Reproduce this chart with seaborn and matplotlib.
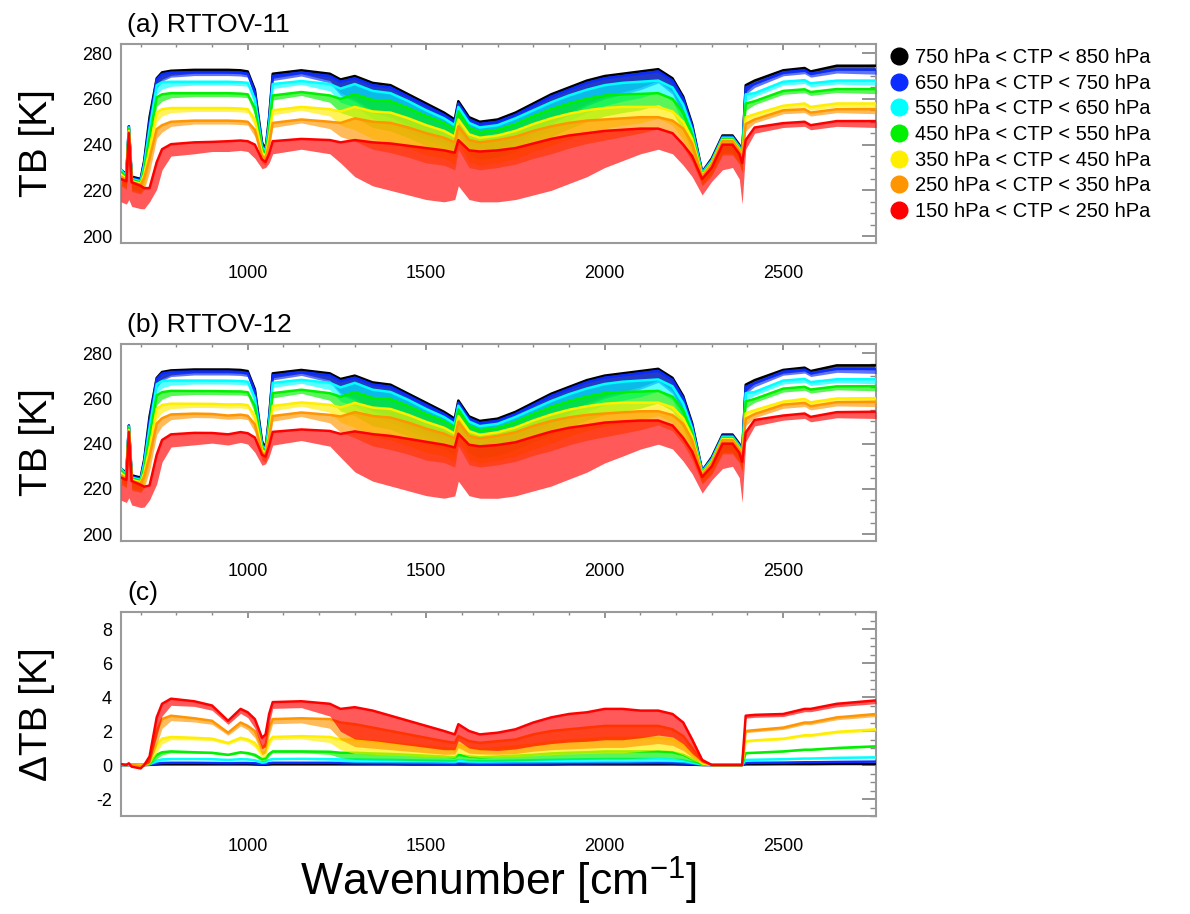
import numpy as np
import pandas as pd
import matplotlib
matplotlib.use("Agg")
import matplotlib.pyplot as plt
from matplotlib.lines import Line2D
from matplotlib.ticker import MultipleLocator, FixedLocator
import seaborn as sns

# ---------------- data ----------------
wavenumber = [645, 660, 667, 675, 700, 710, 725, 745, 760, 785,
              850, 900, 945, 980, 1000, 1020, 1040, 1050, 1060, 1070,
              1150, 1230, 1260, 1300, 1350, 1400, 1450, 1500, 1550, 1580,
              1590, 1620, 1650, 1700, 1750, 1800, 1850, 1900, 1950, 2000,
              2050, 2100, 2150, 2190, 2220, 2245, 2273, 2300, 2330, 2358,
              2377, 2385, 2395, 2420, 2500, 2560, 2577, 2650, 2760]

ctp_classes = ["750 hPa < CTP < 850 hPa", "650 hPa < CTP < 750 hPa",
               "550 hPa < CTP < 650 hPa", "450 hPa < CTP < 550 hPa",
               "350 hPa < CTP < 450 hPa", "250 hPa < CTP < 350 hPa",
               "150 hPa < CTP < 250 hPa"]
class_colors = ["#000000", "#0a2cff", "#00ffff", "#00f000",
                "#ffee00", "#ff9500", "#ff0000"]

# RTTOV-11 brightness temperature, upper envelope per class [K]
tb11_750_850 = [229, 227, 248, 226, 225, 233, 252, 269, 271.6, 272.3,
                272.7, 272.7, 272.7, 272.5, 272, 264, 241, 238, 252, 271,
                272.5, 271, 268.5, 270, 267, 266, 262, 258, 254, 251,
                259, 252, 250, 251, 254, 258, 262, 265, 268, 270,
                271, 272, 273, 269, 261, 249, 228, 234, 244, 244,
                240, 236, 266, 268, 272.5, 273.5, 272, 274.5, 274.5]
tb11_650_750 = [228.5, 226.5, 248, 225.5, 224.5, 232, 250, 268.5, 270.8, 271.5,
                271.7, 271.7, 271.7, 271.5, 271, 263, 240, 237.5, 251, 270,
                271.5, 270, 267.5, 269, 266, 265, 261, 257, 253, 250,
                258, 251, 249, 250, 253, 257, 261, 264, 267, 269,
                270, 271, 272, 268, 260, 248, 228, 233.5, 243.5, 243.5,
                239.5, 235.5, 265, 266.5, 271.6, 272.5, 271, 272.8, 272.8]
tb11_550_650 = [229, 226, 247.5, 225, 224, 231, 247, 266, 267.3, 267.5,
                267.5, 267.5, 267.5, 267.3, 267, 260, 239, 237, 249, 266.5,
                267.8, 266.5, 264.5, 266.5, 263.5, 262.5, 259, 255, 251.5, 248.5,
                256.5, 249.5, 247.5, 248.5, 251.5, 255, 258.5, 261.5, 264, 266,
                267, 267.5, 268, 265, 257.5, 246.5, 227.5, 233, 243, 243,
                239, 235, 262, 262.5, 267.5, 268.2, 266.8, 268, 268]
tb11_450_550 = [228, 225.5, 247, 224.5, 223.5, 229, 243, 260.7, 262, 262.5,
                262.5, 262.5, 262.5, 262.3, 262, 256, 238, 236, 246, 261.5,
                263, 261.5, 260, 262, 259.5, 259, 256, 252.5, 249.5, 246.5,
                254.5, 247.5, 245.5, 246.5, 249, 252.5, 255.5, 258, 260, 261.5,
                262, 262.2, 262.5, 260, 254, 244.5, 227, 232.5, 242.5, 242.5,
                238.5, 234.5, 258, 259, 263.5, 264.2, 263, 264.3, 264.3]
tb11_350_450 = [227, 225, 246, 224, 223, 227, 238, 254, 255.5, 256,
                256, 256, 256, 255.8, 255.5, 251, 236.5, 235, 243, 255,
                256.5, 255.5, 254.5, 256.5, 254.5, 254, 251.5, 248.5, 246, 243.5,
                251, 244.5, 243, 244, 246, 249, 251.5, 253.5, 255, 256,
                256.5, 256.5, 256.5, 254.5, 250, 242.5, 226.5, 232, 242, 242,
                238, 234, 252, 253.3, 257, 258, 256.5, 258, 258]
tb11_250_350 = [226, 224.5, 245.5, 223.5, 222.5, 225.5, 234, 246.8, 248.5, 250,
                250.5, 250.5, 250.5, 250.3, 250, 246.5, 235, 234, 240.5, 249.5,
                251, 250, 249.5, 251.5, 250, 249.5, 247.5, 245, 243, 241,
                248, 242, 241, 242, 243.5, 246, 248, 249.5, 250.5, 251,
                251.5, 252, 252, 250.5, 247, 240.5, 226, 231.5, 241.5, 241.5,
                237.5, 233.5, 249, 251, 255, 255.5, 254, 255.5, 255.5]
tb11_150_250 = [225, 224, 245, 223.6, 222, 221, 221, 232.3, 238, 240.2,
                241, 241.2, 241.5, 241.8, 241.5, 240, 233.5, 232.5, 236, 241.5,
                242.5, 242, 241, 242, 241, 240.5, 239.5, 238.5, 237.5, 236.5,
                242, 237.5, 237, 237.5, 238.5, 240.5, 242.5, 244, 245, 246,
                246.5, 247, 247, 245, 240, 235, 225, 230, 240, 240,
                236, 232, 242, 247.5, 249.4, 250, 248.5, 250.3, 250.3]
# lower edge of the scatter of the 150-250 hPa class [K]
tb11_150_250_bottom = [215, 214, 216, 213, 212, 212, 215, 220.5, 229, 235,
                       236, 237, 237, 237.5, 237, 234, 229.5, 230, 232, 236,
                       238, 236, 232, 226, 222, 220, 218, 216, 215, 216,
                       222, 216, 215, 215, 216, 218, 220, 223, 226, 230,
                       233, 236, 238, 236, 231, 226, 218, 224, 229, 230,
                       225, 214, 238, 245, 247.5, 248, 246.5, 248, 247.5]
# downward spread of the scatter of the other classes [K]
tb11_spread = [4, 4, 4, 4, 4, 5, 6, 4, 3, 2,
               1.5, 1.5, 1.5, 1.5, 1.5, 3, 3, 3, 3, 2,
               1.5, 3, 6, 10, 12, 13, 13, 13, 12, 12,
               10, 12, 12, 12, 12, 12, 12, 11, 10, 9,
               8, 7, 5, 6, 8, 8, 4, 5, 6, 6,
               6, 6, 3, 1.5, 1.5, 1.5, 1.5, 1.5, 2]

# Difference RTTOV-12 minus RTTOV-11, upper envelope per class [K]
dtb_750_850 = [0, 0, 0, 0, 0, 0, 0.01, 0.03, 0.04, 0.04,
               0.04, 0.04, 0.04, 0.04, 0.04, 0.03, 0.02, 0.02, 0.03, 0.04,
               0.04, 0.04, 0.04, 0.04, 0.04, 0.04, 0.03, 0.03, 0.03, 0.03,
               0.03, 0.03, 0.03, 0.03, 0.03, 0.03, 0.03, 0.04, 0.04, 0.04,
               0.04, 0.04, 0.04, 0.04, 0.03, 0.02, 0, 0, 0, 0,
               0, 0, 0.04, 0.04, 0.05, 0.05, 0.05, 0.06, 0.06]
dtb_650_750 = [0.0, 0.0, 0.0, 0.0, 0.0, 0.0, 0.02, 0.1, 0.12, 0.13,
               0.13, 0.12, 0.11, 0.12, 0.12, 0.1, 0.06, 0.07, 0.11, 0.13,
               0.13, 0.13, 0.12, 0.12, 0.11, 0.11, 0.1, 0.1, 0.09, 0.08,
               0.1, 0.09, 0.08, 0.09, 0.1, 0.1, 0.11, 0.12, 0.12, 0.13,
               0.13, 0.13, 0.13, 0.12, 0.1, 0.06, 0.01, 0.0, 0.0, 0.0,
               0.0, 0.0, 0.12, 0.13, 0.14, 0.16, 0.16, 0.18, 0.2]
dtb_550_650 = [0.01, 0.0, 0.01, 0.0, 0.0, 0.0, 0.05, 0.25, 0.33, 0.35,
               0.35, 0.34, 0.3, 0.34, 0.33, 0.28, 0.15, 0.18, 0.3, 0.35,
               0.36, 0.35, 0.33, 0.33, 0.31, 0.3, 0.28, 0.26, 0.24, 0.22,
               0.28, 0.24, 0.22, 0.24, 0.26, 0.28, 0.3, 0.32, 0.34, 0.35,
               0.35, 0.35, 0.35, 0.33, 0.27, 0.15, 0.02, 0.0, 0.0, 0.0,
               0.0, 0.0, 0.3, 0.31, 0.34, 0.38, 0.38, 0.42, 0.45]
dtb_450_550 = [0.02, 0.0, 0.02, 0.0, 0.0, 0.0, 0.1, 0.6, 0.75, 0.8,
               0.75, 0.72, 0.6, 0.75, 0.7, 0.6, 0.35, 0.4, 0.65, 0.8,
               0.8, 0.78, 0.72, 0.72, 0.68, 0.65, 0.6, 0.55, 0.5, 0.45,
               0.6, 0.5, 0.45, 0.5, 0.55, 0.6, 0.68, 0.72, 0.75, 0.8,
               0.8, 0.8, 0.8, 0.75, 0.6, 0.35, 0.05, 0.0, 0.0, 0.0,
               0.0, 0.0, 0.7, 0.72, 0.8, 0.9, 0.9, 1.0, 1.1]
dtb_350_450 = [0.03, 0.0, 0.03, 0.0, 0.0, 0.0, 0.2, 1.2, 1.55, 1.65,
               1.6, 1.55, 1.3, 1.6, 1.5, 1.3, 0.7, 0.8, 1.4, 1.65,
               1.7, 1.65, 1.5, 1.5, 1.4, 1.3, 1.2, 1.1, 1.0, 0.9,
               1.2, 1.0, 0.9, 1.0, 1.1, 1.2, 1.35, 1.45, 1.5, 1.6,
               1.6, 1.6, 1.6, 1.5, 1.2, 0.7, 0.1, 0.0, 0.0, 0.0,
               0.0, 0.0, 1.4, 1.45, 1.55, 1.75, 1.75, 1.95, 2.1]
dtb_250_350 = [0.05, 0.0, 0.05, 0.0, -0.05, 0.0, 0.3, 2.0, 2.7, 2.9,
               2.75, 2.6, 1.9, 2.5, 2.3, 2.0, 1.0, 1.2, 2.2, 2.7,
               2.75, 2.7, 2.5, 2.4, 2.2, 2.0, 1.8, 1.6, 1.4, 1.3,
               1.7, 1.4, 1.3, 1.4, 1.5, 1.8, 2.0, 2.1, 2.2, 2.3,
               2.3, 2.3, 2.3, 2.1, 1.7, 1.0, 0.2, 0.0, 0.0, 0.0,
               0.0, 0.0, 2.0, 2.05, 2.2, 2.5, 2.5, 2.8, 3.0]
dtb_150_250 = [0.05, 0.0, 0.1, -0.1, -0.2, 0.0, 0.5, 2.8, 3.6, 3.9,
               3.75, 3.5, 2.6, 3.3, 3.1, 2.7, 1.6, 1.8, 3.0, 3.7,
               3.75, 3.6, 3.3, 3.4, 3.2, 2.9, 2.6, 2.3, 2.0, 1.8,
               2.4, 2.0, 1.8, 1.9, 2.1, 2.5, 2.8, 3.0, 3.1, 3.3,
               3.3, 3.2, 3.2, 3.0, 2.5, 1.5, 0.3, 0.0, 0.0, 0.0,
               0.0, 0.0, 2.9, 2.95, 3.0, 3.3, 3.3, 3.6, 3.8]
# lower edge of the difference scatter as a fraction of the upper envelope
dtb_lower_fraction = [1, 1, 1, 1, 1, 1, 0.3, 0.6, 0.8, 0.9,
                      0.92, 0.92, 0.92, 0.92, 0.9, 0.8, 0.6, 0.6, 0.8, 0.9,
                      0.9, 0.8, 0.6, 0.45, 0.45, 0.45, 0.45, 0.45, 0.45, 0.5,
                      0.6, 0.5, 0.5, 0.45, 0.45, 0.45, 0.45, 0.45, 0.45, 0.45,
                      0.45, 0.5, 0.55, 0.55, 0.5, 0.45, 0.6, 1, 1, 1,
                      1, 1, 0.95, 0.95, 0.95, 0.95, 0.95, 0.95, 0.95]

# ---------------- tables ----------------
wn = np.array(wavenumber, dtype=float)
tb11_top = [tb11_750_850, tb11_650_750, tb11_550_650, tb11_450_550,
            tb11_350_450, tb11_250_350, tb11_150_250]
dtb_top = [dtb_750_850, dtb_650_750, dtb_550_650, dtb_450_550,
           dtb_350_450, dtb_250_350, dtb_150_250]

a_hi, a_lo, c_hi, c_lo, b_hi, b_lo = [], [], [], [], [], []
for i in range(len(ctp_classes)):
    hi = np.array(tb11_top[i], dtype=float)
    if i == len(ctp_classes) - 1:
        lo = np.array(tb11_150_250_bottom, dtype=float)
    else:
        lo = hi - np.array(tb11_spread, dtype=float)
    dh = np.array(dtb_top[i], dtype=float)
    dl = dh * np.array(dtb_lower_fraction, dtype=float)
    a_hi.append(hi); a_lo.append(lo)
    c_hi.append(dh); c_lo.append(dl)
    b_hi.append(hi + dh); b_lo.append(lo + dl)


def long_table(hi_list, lo_list):
    frames = []
    for name, hi, lo in zip(ctp_classes, hi_list, lo_list):
        frames.append(pd.DataFrame({"wavenumber": wn, "top": hi,
                                    "bottom": lo, "class": name}))
    return pd.concat(frames, ignore_index=True)


# ---------------- style ----------------
sns.set_style("white")
plt.rcParams["font.family"] = ["Liberation Sans", "DejaVu Sans"]
plt.rcParams["axes.unicode_minus"] = False
plt.rcParams["text.color"] = "black"
plt.rcParams["axes.labelcolor"] = "black"
plt.rcParams["xtick.color"] = "black"
plt.rcParams["ytick.color"] = "black"

fig = plt.figure(figsize=(11.9, 9.14), dpi=100)
W, H = 1190.0, 914.0
L, R = 121, 876
boxes = [(44, 243), (344, 541), (612, 816)]
axes = [fig.add_axes([L / W, 1 - b / H, (R - L) / W, (b - t) / H]) for t, b in boxes]

palette = dict(zip(ctp_classes, class_colors))
panels = [(a_hi, a_lo, (197, 284), 20, 5, "(a) RTTOV-11", "TB [K]"),
          (b_hi, b_lo, (197, 284), 20, 5, "(b) RTTOV-12", "TB [K]"),
          (c_hi, c_lo, (-3, 9), 2, 0.5, "(c)", "\u0394TB [K]")]

for ax, (hi_l, lo_l, ylim, major, minor, title, ylabel) in zip(axes, panels):
    df = long_table(hi_l, lo_l)
    for i, name in enumerate(ctp_classes):
        sub = df[df["class"] == name]
        ax.fill_between(sub["wavenumber"], sub["bottom"], sub["top"],
                        color=palette[name], alpha=0.65, lw=0, zorder=2 + 2 * i)
    sns.lineplot(data=df, x="wavenumber", y="top", hue="class",
                 hue_order=ctp_classes, palette=palette, estimator=None,
                 linewidth=1.8, legend=False, ax=ax)
    for i, line in enumerate(ax.get_lines()):
        line.set_zorder(3 + 2 * i)
    ax.set_xlim(645, 2760)
    ax.set_ylim(*ylim)
    ax.xaxis.set_major_locator(FixedLocator([1000, 1500, 2000, 2500]))
    ax.xaxis.set_minor_locator(MultipleLocator(100))
    ax.yaxis.set_major_locator(MultipleLocator(major))
    ax.yaxis.set_minor_locator(MultipleLocator(minor))
    ax.tick_params(axis="both", which="both", direction="in", top=True,
                   right=True, color="#8a8a8a", labelcolor="black",
                   labelsize=13)
    ax.tick_params(axis="y", which="major", length=10, width=1.3, pad=6.5)
    ax.tick_params(axis="y", which="minor", length=4, width=1.0)
    ax.tick_params(axis="x", which="major", length=4, width=1.3, pad=16)
    ax.tick_params(axis="x", which="minor", length=2.5, width=1.0)
    for s in ax.spines.values():
        s.set_color("#9a9a9a")
        s.set_linewidth(1.5)
    ax.set_xlabel("")
    ax.set_ylabel(ylabel, fontsize=28, color="black")
    ax.yaxis.set_label_coords(-0.087, 0.5)
    ax.text(0.008, 1.0 + 12.0 / (ax.get_position().height * H), title,
            transform=ax.transAxes, fontsize=19, ha="left", va="baseline",
            color="black")

axes[2].set_xlabel("Wavenumber [cm$^{\\mathregular{-1}}$]", fontsize=32,
                   color="black")
axes[2].xaxis.set_label_coords(0.5, -0.19)

handles = [Line2D([], [], marker="o", linestyle="none", markersize=12,
                  markerfacecolor=c, markeredgecolor=c) for c in class_colors]
leg = fig.legend(handles, ctp_classes, loc="upper left",
                 bbox_to_anchor=(890 / W, 1 - 48 / H), frameon=False,
                 fontsize=14.5, handlelength=0.9, handletextpad=0.35,
                 labelspacing=0.33, borderpad=0, borderaxespad=0)
for t in leg.get_texts():
    t.set_color("black")

fig.savefig("out.png", dpi=100)
